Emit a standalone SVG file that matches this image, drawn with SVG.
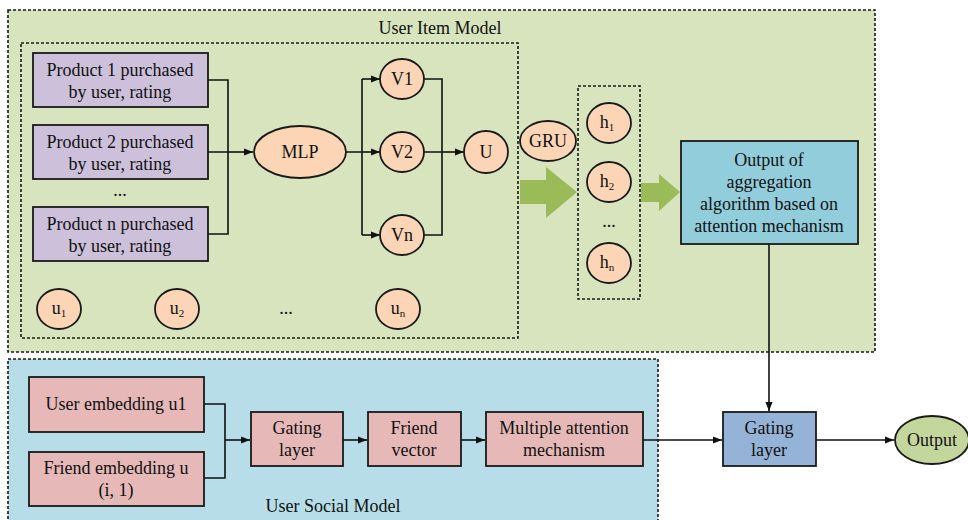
<svg xmlns="http://www.w3.org/2000/svg" width="968" height="520" viewBox="0 0 968 520" font-family="'Liberation Serif', 'Times New Roman', 'DejaVu Serif', serif">
<defs>
<style>
text{font-family:'Liberation Serif','Times New Roman','DejaVu Serif',serif;font-size:18px;fill:#111;text-anchor:middle}
.sub{font-size:11px}
.box{stroke:#1a1a1a;stroke-width:1.8}
.prod{fill:#CCC0DA}
.pink{fill:#E6B9B8}
.ell{fill:#FBD5B5;stroke:#1a1a1a;stroke-width:1.8}
.dash{fill:none;stroke:#1a1a1a;stroke-width:1.6;stroke-dasharray:3,2}
.ln{fill:none;stroke:#111;stroke-width:1.6}
.arr{fill:none;stroke:#111;stroke-width:1.6;marker-end:url(#ah)}
.fat{fill:#9BBB59}
</style>
<marker id="ah" viewBox="0 0 10 10" refX="10" refY="5" markerWidth="9" markerHeight="9" markerUnits="userSpaceOnUse" orient="auto">
<path d="M0,1 L10,5 L0,9 z" fill="#111"/>
</marker>
</defs>
<rect width="968" height="520" fill="#fff"/>
<g id="user-item-model">
<rect x="8" y="10" width="867" height="342" fill="#D7E4BD"/>
<rect x="8" y="10" width="867" height="342" class="dash"/>
<text x="440" y="34">User Item Model</text>
<rect x="21" y="43" width="497" height="295" class="dash"/>
</g>
<g id="user-social-model">
<rect x="8" y="359" width="650" height="170" fill="#B7DDE8"/>
<rect x="8" y="359" width="650" height="170" class="dash"/>
<text x="333" y="512">User Social Model</text>
</g>
<g id="connectors">
<path class="ln" d="M208,80 H228 V234 H208 M208,152 H228"/>
<path class="arr" d="M228,152 H253"/>
<path class="ln" d="M346,152 H362 M362,79 V235"/>
<path class="arr" d="M362,79 H380"/>
<path class="arr" d="M362,152 H380"/>
<path class="arr" d="M362,235 H380"/>
<path class="ln" d="M424,79 H442 V235 H424 M424,152 H442"/>
<path class="arr" d="M442,152 H464"/>
<polygon class="fat" points="520,180 546,180 546,167 577,192 546,218 546,204 520,204"/>
<polygon class="fat" points="641,183 659,183 659,174 680,192 659,211 659,202 641,202"/>
<path class="arr" d="M769,244 V411"/>
<path class="arr" d="M816,440 H894"/>
<path class="arr" d="M643,440 H722"/>
<path class="ln" d="M204,404 H225 V478 H204"/>
<path class="arr" d="M225,440 H250"/>
<path class="arr" d="M343,440 H367"/>
<path class="arr" d="M461,440 H485"/>
</g>
<g id="product1"><rect class="box prod" x="33" y="53" width="175" height="54"/><text x="120" y="76">Product 1 purchased</text><text x="120" y="98">by user, rating</text></g>
<g id="product2"><rect class="box prod" x="33" y="125" width="175" height="54"/><text x="120" y="148">Product 2 purchased</text><text x="120" y="170">by user, rating</text></g>
<text x="120" y="196">...</text>
<g id="productn"><rect class="box prod" x="33" y="207" width="175" height="54"/><text x="120" y="230">Product n purchased</text><text x="120" y="252">by user, rating</text></g>
<g id="mlp"><ellipse class="ell" cx="300" cy="152" rx="46" ry="26"/><text x="300" y="158">MLP</text></g>
<g id="v1"><ellipse class="ell" cx="402" cy="79" rx="22" ry="20"/><text x="402" y="85">V1</text></g>
<g id="v2"><ellipse class="ell" cx="402" cy="152" rx="22" ry="20"/><text x="402" y="158">V2</text></g>
<g id="vn"><ellipse class="ell" cx="402" cy="235" rx="22" ry="20"/><text x="402" y="241">Vn</text></g>
<g id="u"><ellipse class="ell" cx="486" cy="152" rx="22" ry="21"/><text x="486" y="158">U</text></g>
<g id="u1"><ellipse class="ell" cx="59" cy="309" rx="22" ry="20"/><text x="59" y="314">u<tspan class="sub" dy="3">1</tspan></text></g>
<g id="u2"><ellipse class="ell" cx="177" cy="309" rx="22" ry="20"/><text x="177" y="314">u<tspan class="sub" dy="3">2</tspan></text></g>
<text x="286" y="314">...</text>
<g id="un"><ellipse class="ell" cx="398" cy="309" rx="22" ry="20"/><text x="398" y="314">u<tspan class="sub" dy="3">n</tspan></text></g>
<g id="gru"><ellipse class="ell" cx="548" cy="141" rx="28" ry="20"/><text x="548" y="147">GRU</text></g>
<g id="h-group">
<rect x="578" y="86" width="62" height="213" class="dash"/>
</g>
<g id="h1"><ellipse class="ell" cx="609" cy="123" rx="22" ry="20"/><text x="607" y="128">h<tspan class="sub" dy="3">1</tspan></text></g>
<g id="h2"><ellipse class="ell" cx="609" cy="182" rx="22" ry="20"/><text x="607" y="187">h<tspan class="sub" dy="3">2</tspan></text></g>
<text x="609" y="227">...</text>
<g id="hn"><ellipse class="ell" cx="609" cy="263" rx="22" ry="20"/><text x="607" y="268">h<tspan class="sub" dy="3">n</tspan></text></g>
<g id="aggregation"><rect class="box" x="681" y="141" width="177" height="103" fill="#92CDDC"/>
<text x="769" y="166">Output of</text><text x="769" y="188">aggregation</text><text x="769" y="210">algorithm based on</text><text x="769" y="232">attention mechanism</text></g>
<g id="user-embedding"><rect class="box pink" x="29" y="377" width="175" height="55"/><text x="116" y="410">User embedding u1</text></g>
<g id="friend-embedding"><rect class="box pink" x="29" y="452" width="175" height="54"/><text x="116" y="474">Friend embedding u</text><text x="116" y="496">(i, 1)</text></g>
<g id="gating1"><rect class="box pink" x="251" y="412" width="92" height="54"/><text x="297" y="434">Gating</text><text x="297" y="456">layer</text></g>
<g id="friend-vector"><rect class="box pink" x="368" y="412" width="93" height="54"/><text x="414" y="434">Friend</text><text x="414" y="456">vector</text></g>
<g id="multi-attention"><rect class="box pink" x="486" y="412" width="157" height="54"/><text x="564" y="434">Multiple attention</text><text x="564" y="456">mechanism</text></g>
<g id="gating2"><rect class="box" x="723" y="412" width="93" height="54" fill="#95B3D7"/><text x="769" y="434">Gating</text><text x="769" y="456">layer</text></g>
<g id="output"><ellipse class="ell" cx="932" cy="440" rx="37" ry="24" style="fill:#C3D69B"/><text x="932" y="446">Output</text></g>
</svg>
